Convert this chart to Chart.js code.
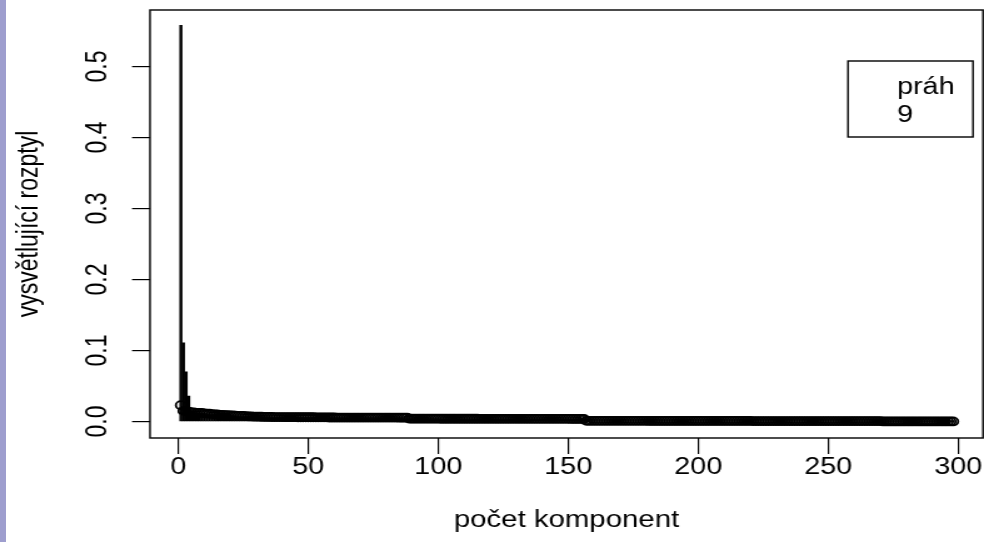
<!DOCTYPE html>
<html>
<head>
<meta charset="utf-8">
<script src="https://cdn.jsdelivr.net/npm/chart.js@4/dist/chart.umd.min.js"></script>
<style>
  html, body { margin: 0; padding: 0; background: #fff; overflow: hidden; }
  #page { position: relative; width: 984px; height: 542px; }
  #wrap { position: absolute; left: 0; top: 0; transform-origin: 0 0; }
  #stripe { position: absolute; left: 0; top: 0; width: 6px; height: 542px; background: #9e9ece; }
</style>
</head>
<body>
<div id="page">
  <div id="wrap"><canvas id="chart"></canvas></div>
  <div id="stripe"></div>
</div>
<script>
// Explained variance per principal component (vertical lines)
const leadingBars = [0.558, 0.111, 0.070, 0.036];

// Point markers, one per component 1..298
const pointValues = [
  0.023, 0.015, 0.014, 0.014, 0.013, 0.013, 0.012, 0.012, 0.012, 0.0115,
  0.011, 0.011, 0.0105, 0.010, 0.010, 0.0095, 0.0095, 0.009, 0.009, 0.0087,
  0.0085, 0.0083, 0.008, 0.008, 0.0078, 0.0075, 0.0073, 0.0072, 0.007, 0.0069,
  0.0068, 0.0067, 0.0066, 0.0065, 0.0065, 0.0064, 0.0063, 0.0063, 0.0062, 0.0062,
  0.0061, 0.0061, 0.0061, 0.0061, 0.0061, 0.006, 0.006, 0.006, 0.006, 0.006,
  0.006, 0.006, 0.0059, 0.0059, 0.0058, 0.0058, 0.0058, 0.0057, 0.0057, 0.0057,
  0.0056, 0.0056, 0.0056, 0.0056, 0.0056, 0.0056, 0.0056, 0.0056, 0.0056, 0.0056,
  0.0056, 0.0056, 0.0056, 0.0055, 0.0055, 0.0055, 0.0055, 0.0055, 0.0055, 0.0055,
  0.0055, 0.0055, 0.0055, 0.0055, 0.0054, 0.0054, 0.0054, 0.0054, 0.004, 0.004,
  0.004, 0.004, 0.004, 0.004, 0.004, 0.004, 0.004, 0.004, 0.004, 0.004,
  0.0039, 0.0039, 0.0039, 0.0039, 0.0039, 0.0039, 0.0039, 0.0039, 0.0039, 0.0039,
  0.0039, 0.0039, 0.0039, 0.0039, 0.0039, 0.0038, 0.0038, 0.0038, 0.0038, 0.0038,
  0.0038, 0.0038, 0.0038, 0.0038, 0.0038, 0.0038, 0.0038, 0.0038, 0.0038, 0.0038,
  0.0038, 0.0038, 0.0038, 0.0038, 0.0038, 0.0037, 0.0037, 0.0037, 0.0037, 0.0037,
  0.0037, 0.0037, 0.0037, 0.0037, 0.0037, 0.0037, 0.0037, 0.0037, 0.0037, 0.0037,
  0.0036, 0.0036, 0.0036, 0.0036, 0.0036, 0.0036, 0.0009, 0.0009, 0.0009, 0.0009,
  0.0009, 0.0009, 0.0009, 0.0009, 0.0009, 0.0009, 0.0009, 0.0009, 0.0009, 0.0009,
  0.0009, 0.0009, 0.0009, 0.0009, 0.0009, 0.0009, 0.0009, 0.0009, 0.0009, 0.0009,
  0.0008, 0.0008, 0.0008, 0.0008, 0.0008, 0.0008, 0.0008, 0.0008, 0.0008, 0.0008,
  0.0008, 0.0008, 0.0008, 0.0008, 0.0008, 0.0008, 0.0008, 0.0008, 0.0008, 0.0008,
  0.0008, 0.0008, 0.0008, 0.0008, 0.0008, 0.0008, 0.0008, 0.0008, 0.0008, 0.0008,
  0.0008, 0.0008, 0.0008, 0.0008, 0.0008, 0.0008, 0.0008, 0.0008, 0.0008, 0.0008,
  0.0007, 0.0007, 0.0007, 0.0007, 0.0007, 0.0007, 0.0007, 0.0007, 0.0007, 0.0007,
  0.0007, 0.0007, 0.0007, 0.0007, 0.0007, 0.0007, 0.0007, 0.0007, 0.0007, 0.0007,
  0.0007, 0.0007, 0.0007, 0.0007, 0.0007, 0.0007, 0.0007, 0.0007, 0.0007, 0.0007,
  0.0007, 0.0007, 0.0007, 0.0007, 0.0007, 0.0007, 0.0007, 0.0007, 0.0007, 0.0007,
  0.0006, 0.0006, 0.0006, 0.0006, 0.0006, 0.0006, 0.0006, 0.0006, 0.0006, 0.0006,
  0.0001, 0.0001, 0.0001, 0.0001, 0.0001, 0.0001, 0.0001, 0.0001, 0.0001, 0.0001,
  0.0001, 0.0001, 0.0001, 0.0001, 0.0001, 0.0001, 0.0001, 0.0001, 0.0001, 0.0001,
  0.0001, 0.0001, 0.0001, 0.0001, 0.0001, 0.0001, 0.0001, 0.0001
];

// Line heights: the first components stand out, the rest follow the markers
const barValues = leadingBars.concat(pointValues.slice(leadingBars.length));
const components = pointValues.map((_, i) => i + 1);

const xTicks = [0, 50, 100, 150, 200, 250, 300];
const yTicks = [0.0, 0.1, 0.2, 0.3, 0.4, 0.5];
const legendLabels = ['práh', '9'];
const xTitle = 'počet komponent';
const yTitle = 'vysvětlující rozptyl';

// The plot is drawn on a narrower canvas and widened horizontally
const OUT_W = 984, OUT_H = 542;
const W = 787;
const S = OUT_W / W;
const canvas = document.getElementById('chart');
canvas.width = W; canvas.height = OUT_H;
canvas.style.width = W + 'px'; canvas.style.height = OUT_H + 'px';
document.getElementById('wrap').style.transform = 'scaleX(' + S + ')';

const FONT = '"Liberation Sans", Arial, Helvetica, sans-serif';
const INK = '#000';

const frame = {
  id: 'frame',
  afterDatasetsDraw(chart) {
    const { ctx, chartArea: a } = chart;
    ctx.save();
    ctx.strokeStyle = INK;
    ctx.lineWidth = 1.4;
    ctx.strokeRect(a.left, a.top, a.right - a.left, a.bottom - a.top);
    ctx.restore();
  }
};

const legendBox = {
  id: 'legendBox',
  afterDraw(chart) {
    const { ctx, chartArea: a } = chart;
    const w = 125 / S, h = 76;
    const right = a.right - 10 / S, top = a.top + 51;
    ctx.save();
    ctx.strokeStyle = INK;
    ctx.lineWidth = 1.4;
    ctx.strokeRect(right - w, top, w, h);
    ctx.fillStyle = INK;
    ctx.font = '23px ' + FONT;
    ctx.textBaseline = 'alphabetic';
    ctx.textAlign = 'left';
    legendLabels.forEach((t, i) => ctx.fillText(t, right - w + 49 / S, top + 33 + i * 27.5));
    ctx.restore();
  }
};

new Chart(canvas, {
  type: 'bar',
  data: {
    datasets: [
      {
        type: 'line',
        data: components.map((x, i) => ({ x, y: pointValues[i] })),
        showLine: false,
        pointStyle: 'circle',
        pointRadius: 4,
        pointBorderWidth: 1.8,
        pointBorderColor: INK,
        pointBackgroundColor: 'rgba(0,0,0,0)',
        order: 0
      },
      {
        type: 'bar',
        data: components.map((x, i) => ({ x, y: barValues[i] })),
        backgroundColor: INK,
        borderWidth: 0,
        barThickness: 1.8,
        grouped: false,
        order: 1
      }
    ]
  },
  options: {
    responsive: false,
    animation: false,
    devicePixelRatio: 1,
    layout: { autoPadding: false, padding: { top: 10, right: 1 / S, left: 0, bottom: 0 } },
    plugins: { legend: { display: false }, tooltip: { enabled: false } },
    scales: {
      x: {
        type: 'linear',
        min: -10.88,
        max: 309.5,
        offset: false,
        border: { display: false },
        grid: { offset: false, drawOnChartArea: false, drawTicks: true, tickLength: 16, color: INK, lineWidth: 1.2 },
        ticks: {
          color: INK,
          font: { family: FONT, size: 23, lineHeight: 1 },
          padding: 2.5,
          maxRotation: 0,
          autoSkip: false,
          callback: v => String(v)
        },
        title: {
          display: true,
          text: xTitle,
          color: INK,
          font: { family: FONT, size: 23.5 },
          padding: { top: 0, bottom: 7.5 }
        },
        afterBuildTicks: s => { s.ticks = xTicks.map(v => ({ value: v })); },
        afterFit: s => { s.height = OUT_H - 438; s.paddingLeft = 0; s.paddingRight = 0; }
      },
      y: {
        type: 'linear',
        min: -0.0232,
        max: 0.5796,
        border: { display: false },
        grid: { offset: false, drawOnChartArea: false, drawTicks: true, tickLength: 18 / S, color: INK, lineWidth: 1.2 },
        ticks: {
          color: INK,
          font: { family: FONT, size: 23 },
          minRotation: 90,
          maxRotation: 90,
          crossAlign: 'center',
          padding: 10.8,
          autoSkip: false,
          callback: v => v.toFixed(1)
        },
        title: {
          display: true,
          text: yTitle,
          color: INK,
          font: { family: FONT, size: 23 },
          padding: { top: 9.4, bottom: 0 }
        },
        afterBuildTicks: s => { s.ticks = yTicks.map(v => ({ value: v })); },
        afterFit: s => { s.width = 150 / S; s.paddingTop = 0; s.paddingBottom = 0; }
      }
    }
  },
  plugins: [frame, legendBox]
});
</script>
</body>
</html>
